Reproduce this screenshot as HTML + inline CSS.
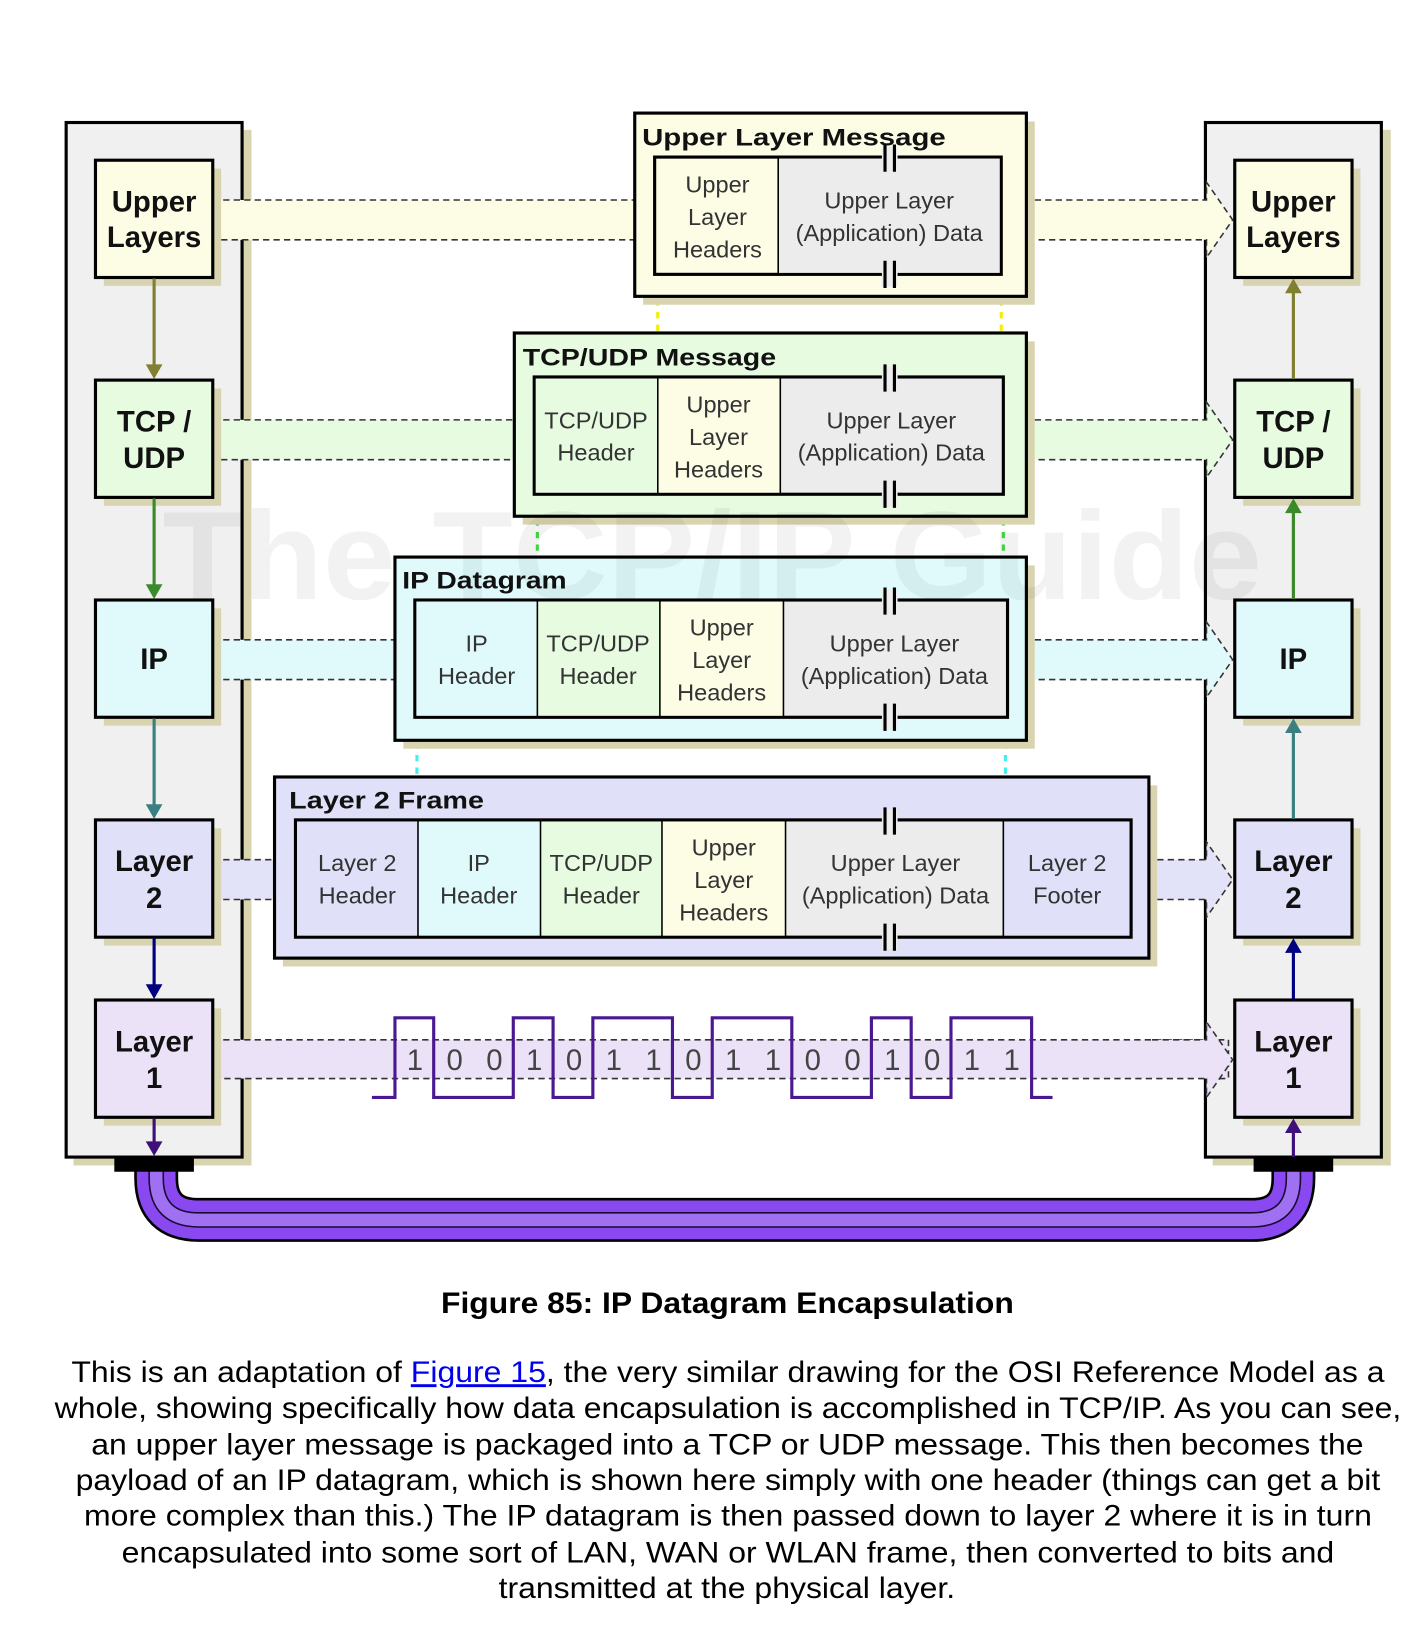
<!DOCTYPE html>
<html><head><meta charset="utf-8"><style>
html,body{margin:0;padding:0;background:#fff;}
svg{display:block;}
text{font-family:"Liberation Sans",Arial,sans-serif;}
.b{font-weight:bold;font-size:28px;fill:#111;text-anchor:middle;}
.t{font-weight:bold;font-size:23px;fill:#111;}
.c{font-size:22.5px;fill:#333;text-anchor:middle;}
.d{font-size:28px;fill:#444;text-anchor:middle;}
.cap{font-size:28px;fill:#000;}
</style></head><body>
<svg width="1414" height="1644" viewBox="0 0 1350 1570" xmlns="http://www.w3.org/2000/svg">

<rect x="70" y="124" width="170" height="989" fill="#d8d4b0"/>
<rect x="63" y="117" width="168" height="988" fill="#f0f0f0" stroke="#000" stroke-width="3"/>
<rect x="1158" y="124" width="170" height="989" fill="#d8d4b0"/>
<rect x="1151" y="117" width="168" height="988" fill="#f0f0f0" stroke="#000" stroke-width="3"/>

<g stroke="#333" stroke-width="1.5" stroke-dasharray="6,4">
<rect x="203" y="191" width="403" height="38" fill="#fdfde6"/>
<rect x="203" y="401" width="288" height="38" fill="#e6fbe0"/>
<rect x="203" y="611" width="174" height="38" fill="#e0fafc"/>
<rect x="203" y="821" width="59" height="38" fill="#e2e2f8"/>
<rect x="203" y="993" width="970" height="37" fill="#ebe2f8"/>
</g>
<g stroke="#333" stroke-width="1.5" stroke-dasharray="6,4">
<path d="M988,191 H1152 V174 L1177,210 L1152,246 V229 H988" fill="#fdfde6"/>
<path d="M988,401 H1152 V384 L1177,420 L1152,456 V439 H988" fill="#e6fbe0"/>
<path d="M988,611 H1152 V594 L1177,630 L1152,666 V649 H988" fill="#e0fafc"/>
<path d="M1105,821 H1152 V804 L1177,840 L1152,876 V859 H1105" fill="#e2e2f8"/>
<path d="M1100,993 H1152 V976 L1177,1012 L1152,1048 V1030" fill="#ebe2f8"/>
</g>

<g stroke="#000" stroke-width="3">
<rect x="99" y="161" width="112" height="112" fill="#d8d4b0" stroke="none"/>
<rect x="91" y="153" width="112" height="112" fill="#fdfde6"/>
<rect x="99" y="371" width="112" height="112" fill="#d8d4b0" stroke="none"/>
<rect x="91" y="363" width="112" height="112" fill="#e6fbe0"/>
<rect x="99" y="581" width="112" height="112" fill="#d8d4b0" stroke="none"/>
<rect x="91" y="573" width="112" height="112" fill="#e0fafc"/>
<rect x="99" y="791" width="112" height="112" fill="#d8d4b0" stroke="none"/>
<rect x="91" y="783" width="112" height="112" fill="#e0e0f8"/>
<rect x="99" y="963" width="112" height="112" fill="#d8d4b0" stroke="none"/>
<rect x="91" y="955" width="112" height="112" fill="#ebe2f8"/>
<rect x="1187" y="161" width="112" height="112" fill="#d8d4b0" stroke="none"/>
<rect x="1179" y="153" width="112" height="112" fill="#fdfde6"/>
<rect x="1187" y="371" width="112" height="112" fill="#d8d4b0" stroke="none"/>
<rect x="1179" y="363" width="112" height="112" fill="#e6fbe0"/>
<rect x="1187" y="581" width="112" height="112" fill="#d8d4b0" stroke="none"/>
<rect x="1179" y="573" width="112" height="112" fill="#e0fafc"/>
<rect x="1187" y="791" width="112" height="112" fill="#d8d4b0" stroke="none"/>
<rect x="1179" y="783" width="112" height="112" fill="#e0e0f8"/>
<rect x="1187" y="963" width="112" height="112" fill="#d8d4b0" stroke="none"/>
<rect x="1179" y="955" width="112" height="112" fill="#ebe2f8"/>
</g>
<g>
<text x="147" y="202" class="b">Upper</text><text x="147" y="236" class="b">Layers</text>
<text x="147" y="412" class="b">TCP /</text><text x="147" y="447" class="b">UDP</text>
<text x="147" y="639" class="b">IP</text>
<text x="147" y="832" class="b">Layer</text><text x="147" y="867" class="b">2</text>
<text x="147" y="1004" class="b">Layer</text><text x="147" y="1039" class="b">1</text>
<text x="1235" y="202" class="b">Upper</text><text x="1235" y="236" class="b">Layers</text>
<text x="1235" y="412" class="b">TCP /</text><text x="1235" y="447" class="b">UDP</text>
<text x="1235" y="639" class="b">IP</text>
<text x="1235" y="832" class="b">Layer</text><text x="1235" y="867" class="b">2</text>
<text x="1235" y="1004" class="b">Layer</text><text x="1235" y="1039" class="b">1</text>
</g>

<g stroke-width="3">
<path d="M147,266 V352" stroke="#808030"/><polygon points="139,348 155,348 147,362" fill="#808030"/>
<path d="M147,476 V562" stroke="#3a8a2a"/><polygon points="139,558 155,558 147,572" fill="#3a8a2a"/>
<path d="M147,686 V772" stroke="#3a8080"/><polygon points="139,768 155,768 147,782" fill="#3a8080"/>
<path d="M147,896 V944" stroke="#000080"/><polygon points="139,940 155,940 147,954" fill="#000080"/>
<path d="M147,1068 V1094" stroke="#40107a"/>
<path d="M1235,362 V276" stroke="#808030"/><polygon points="1227,280 1243,280 1235,266" fill="#808030"/>
<path d="M1235,572 V486" stroke="#3a8a2a"/><polygon points="1227,490 1243,490 1235,476" fill="#3a8a2a"/>
<path d="M1235,782 V696" stroke="#3a8080"/><polygon points="1227,700 1243,700 1235,686" fill="#3a8080"/>
<path d="M1235,954 V906" stroke="#000080"/><polygon points="1227,910 1243,910 1235,896" fill="#000080"/>
<path d="M1235,1106 V1078" stroke="#40107a"/><polygon points="1227,1082 1243,1082 1235,1068" fill="#40107a"/>
</g>

<g stroke-width="3" stroke-dasharray="6,6" fill="none">
<path d="M628,262 V360 M956,262 V360" stroke="#f0f000"/>
<path d="M513,472 V573 M958,472 V573" stroke="#40e040"/>
<path d="M398,685 V783 M960,685 V783" stroke="#40f0f0"/>
</g>

<rect x="614" y="116" width="374" height="175" fill="#d8d4b0"/>
<rect x="606" y="108" width="374" height="175" fill="#fdfde6" stroke="#000" stroke-width="3"/>
<rect x="625" y="150" width="331" height="112" fill="#fdfde6" stroke="#000" stroke-width="3"/>
<text x="613" y="139" class="t" textLength="290" lengthAdjust="spacingAndGlyphs">Upper Layer Message</text>
<rect x="743" y="151.5" width="211.5" height="109" fill="#ececec"/>
<line x1="743" y1="150" x2="743" y2="262" stroke="#000" stroke-width="1.5"/>
<text x="685" y="184" class="c">Upper</text><text x="685" y="215" class="c">Layer</text><text x="685" y="246" class="c">Headers</text>
<text x="849" y="199" class="c">Upper Layer</text><text x="849" y="230" class="c">(Application) Data</text>

<rect x="499" y="326" width="489" height="175" fill="#d8d4b0"/>
<rect x="491" y="318" width="489" height="175" fill="#e6fbe0" stroke="#000" stroke-width="3"/>
<text x="499" y="349" class="t" textLength="242" lengthAdjust="spacingAndGlyphs">TCP/UDP Message</text>
<rect x="510" y="360" width="448" height="112" fill="#ececec" stroke="#000" stroke-width="3"/>
<rect x="511.5" y="361.5" width="116.5" height="109" fill="#e6fbe0"/>
<rect x="628" y="361.5" width="117" height="109" fill="#fdfde6"/>
<line x1="628" y1="360" x2="628" y2="472" stroke="#000" stroke-width="1.5"/>
<line x1="745" y1="360" x2="745" y2="472" stroke="#000" stroke-width="1.5"/>
<text x="569" y="409" class="c">TCP/UDP</text><text x="569" y="440" class="c">Header</text>
<text x="686" y="394" class="c">Upper</text><text x="686" y="425" class="c">Layer</text><text x="686" y="456" class="c">Headers</text>
<text x="851" y="409" class="c">Upper Layer</text><text x="851" y="440" class="c">(Application) Data</text>

<rect x="385" y="540" width="603" height="175" fill="#d8d4b0"/>
<rect x="377" y="532" width="603" height="175" fill="#e0fafc" stroke="#000" stroke-width="3"/>
<text x="384" y="562" class="t" textLength="157" lengthAdjust="spacingAndGlyphs">IP Datagram</text>
<rect x="396" y="573" width="566" height="112" fill="#ececec" stroke="#000" stroke-width="3"/>
<rect x="397.5" y="574.5" width="115.5" height="109" fill="#e0fafc"/>
<rect x="513" y="574.5" width="117" height="109" fill="#e6fbe0"/>
<rect x="630" y="574.5" width="118" height="109" fill="#fdfde6"/>
<g stroke="#000" stroke-width="1.5"><line x1="513" y1="573" x2="513" y2="685"/><line x1="630" y1="573" x2="630" y2="685"/><line x1="748" y1="573" x2="748" y2="685"/></g>
<text x="455" y="622" class="c">IP</text><text x="455" y="653" class="c">Header</text>
<text x="571" y="622" class="c">TCP/UDP</text><text x="571" y="653" class="c">Header</text>
<text x="689" y="607" class="c">Upper</text><text x="689" y="638" class="c">Layer</text><text x="689" y="669" class="c">Headers</text>
<text x="854" y="622" class="c">Upper Layer</text><text x="854" y="653" class="c">(Application) Data</text>

<rect x="270" y="750" width="835" height="173" fill="#d8d4b0"/>
<rect x="262" y="742" width="835" height="173" fill="#e0e0f8" stroke="#000" stroke-width="3"/>
<text x="276" y="772" class="t" textLength="186" lengthAdjust="spacingAndGlyphs">Layer 2 Frame</text>
<rect x="282" y="783" width="798" height="112" fill="#ececec" stroke="#000" stroke-width="3"/>
<rect x="283.5" y="784.5" width="115.5" height="109" fill="#e0e0f8"/>
<rect x="399" y="784.5" width="117" height="109" fill="#e0fafc"/>
<rect x="516" y="784.5" width="116" height="109" fill="#e6fbe0"/>
<rect x="632" y="784.5" width="118" height="109" fill="#fdfde6"/>
<rect x="958" y="784.5" width="120.5" height="109" fill="#e0e0f8"/>
<g stroke="#000" stroke-width="1.5"><line x1="399" y1="783" x2="399" y2="895"/><line x1="516" y1="783" x2="516" y2="895"/><line x1="632" y1="783" x2="632" y2="895"/><line x1="750" y1="783" x2="750" y2="895"/><line x1="958" y1="783" x2="958" y2="895"/></g>
<text x="341" y="832" class="c">Layer 2</text><text x="341" y="863" class="c">Header</text>
<text x="457" y="832" class="c">IP</text><text x="457" y="863" class="c">Header</text>
<text x="574" y="832" class="c">TCP/UDP</text><text x="574" y="863" class="c">Header</text>
<text x="691" y="817" class="c">Upper</text><text x="691" y="848" class="c">Layer</text><text x="691" y="879" class="c">Headers</text>
<text x="855" y="832" class="c">Upper Layer</text><text x="855" y="863" class="c">(Application) Data</text>
<text x="1019" y="832" class="c">Layer 2</text><text x="1019" y="863" class="c">Footer</text>

<g stroke="#000" stroke-width="3">
<g fill="#ececec"><rect x="842" y="140" width="15" height="22" stroke="none"/><rect x="842" y="250" width="15" height="24" stroke="none"/>
<rect x="842" y="350" width="15" height="22" stroke="none"/><rect x="842" y="460" width="15" height="24" stroke="none"/>
<rect x="842" y="563" width="15" height="22" stroke="none"/><rect x="842" y="673" width="15" height="24" stroke="none"/>
<rect x="842" y="773" width="15" height="22" stroke="none"/><rect x="842" y="883" width="15" height="24" stroke="none"/></g>
<path d="M845,138 V164 M854,138 V164 M845,249 V275 M854,249 V275"/>
<path d="M845,348 V374 M854,348 V374 M845,459 V485 M854,459 V485"/>
<path d="M845,561 V587 M854,561 V587 M845,672 V698 M854,672 V698"/>
<path d="M845,771 V797 M854,771 V797 M845,882 V908 M854,882 V908"/>
</g>

<path d="M355,1048 H377 V972 H414 V1048 H490 V972 H528 V1048 H566 V972 H642 V1048 H680 V972 H756 V1048 H832 V972 H870 V1048 H908 V972 H985 V1048 H1005" fill="none" stroke="#4a1890" stroke-width="3"/>
<g class="d">
<text x="396" y="1022">1</text><text x="434" y="1022">0</text><text x="472" y="1022">0</text><text x="510" y="1022">1</text>
<text x="548" y="1022">0</text><text x="586" y="1022">1</text><text x="624" y="1022">1</text><text x="662" y="1022">0</text>
<text x="700" y="1022">1</text><text x="738" y="1022">1</text><text x="776" y="1022">0</text><text x="814" y="1022">0</text>
<text x="852" y="1022">1</text><text x="890" y="1022">0</text><text x="928" y="1022">1</text><text x="966" y="1022">1</text>
</g>

<g fill="none">
<path d="M149,1115 V1125 Q149,1165 190,1165 H1195 Q1235,1165 1235,1125 V1115" stroke="#000" stroke-width="42"/>
<path d="M149,1115 V1125 Q149,1165 190,1165 H1195 Q1235,1165 1235,1125 V1115" stroke="#8a48f0" stroke-width="37"/>
<path d="M149,1115 V1125 Q149,1165 190,1165 H1195 Q1235,1165 1235,1125 V1115" stroke="#1a0a30" stroke-width="15"/>
<path d="M149,1115 V1125 Q149,1165 190,1165 H1195 Q1235,1165 1235,1125 V1115" stroke="#a070f2" stroke-width="12"/>
</g>
<rect x="109" y="1105" width="76" height="14" fill="#000"/>
<rect x="1197" y="1105" width="76" height="14" fill="#000"/>
<polygon points="139,1090 155,1090 147,1104" fill="#40107a"/>

<text x="155" y="572" font-size="120" font-weight="bold" fill="#000" fill-opacity="0.05" textLength="1050" lengthAdjust="spacingAndGlyphs">The TCP/IP Guide</text>

<text x="421" y="1254" class="cap" font-weight="bold" textLength="547" lengthAdjust="spacingAndGlyphs">Figure 85: IP Datagram Encapsulation</text>
<g class="cap">
<text x="68" y="1320" textLength="1254" lengthAdjust="spacingAndGlyphs">This is an adaptation of <tspan fill="#0000ee" text-decoration="underline">Figure 15</tspan>, the very similar drawing for the OSI Reference Model as a</text>
<text x="52" y="1354" textLength="1286" lengthAdjust="spacingAndGlyphs">whole, showing specifically how data encapsulation is accomplished in TCP/IP. As you can see,</text>
<text x="87" y="1389" textLength="1215" lengthAdjust="spacingAndGlyphs">an upper layer message is packaged into a TCP or UDP message. This then becomes the</text>
<text x="72" y="1423" textLength="1246" lengthAdjust="spacingAndGlyphs">payload of an IP datagram, which is shown here simply with one header (things can get a bit</text>
<text x="80" y="1457" textLength="1230" lengthAdjust="spacingAndGlyphs">more complex than this.) The IP datagram is then passed down to layer 2 where it is in turn</text>
<text x="116" y="1492" textLength="1158" lengthAdjust="spacingAndGlyphs">encapsulated into some sort of LAN, WAN or WLAN frame, then converted to bits and</text>
<text x="476" y="1526" textLength="436" lengthAdjust="spacingAndGlyphs">transmitted at the physical layer.</text>
</g>
</svg>
</body></html>
